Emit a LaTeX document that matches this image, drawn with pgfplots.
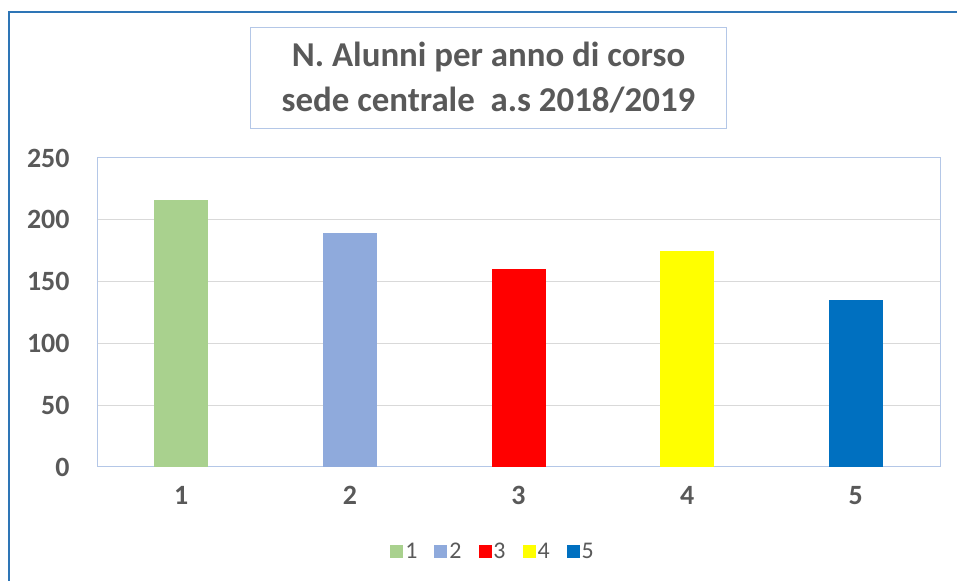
\documentclass[border=0pt]{standalone}
\usepackage{pgfplots}
\pgfplotsset{compat=1.18}
\usepackage{fontspec}
\setmainfont{Carlito}
\definecolor{txt}{HTML}{595959}
\definecolor{gridc}{HTML}{D9D9D9}
\definecolor{plotb}{HTML}{B4C7E7}
\definecolor{frame}{HTML}{2E75B6}
\definecolor{c1}{HTML}{A9D18E}
\definecolor{c2}{HTML}{8FAADC}
\definecolor{c3}{HTML}{FF0000}
\definecolor{c4}{HTML}{FFFF00}
\definecolor{c5}{HTML}{0070C0}
\begin{document}
\begin{tikzpicture}[x=1bp,y=1bp]
\useasboundingbox (0,0) rectangle (957,581);
\draw[frame, line width=1.5bp] (9,0) -- (9,569) -- (957,569);
\begin{axis}[
  at={(97bp,114bp)}, anchor=south west,
  scale only axis, width=843bp, height=309bp,
  xmin=0.5, xmax=5.5, ymin=0, ymax=250,
  xtick={1,2,3,4,5}, ytick={0,50,100,150,200,250},
  major tick length=0pt,
  axis line style={plotb, line width=1bp},
  ymajorgrids, grid style={gridc, line width=1bp},
  /pgf/number format/assume math mode=true,
  ticklabel style={font=\fontsize{28}{30}\selectfont\bfseries, text=txt},
  yticklabel style={xshift=-24bp},
  xticklabel style={yshift=-16bp},
  ybar, bar width=54bp, bar shift=0pt,
  title={N. Alunni per anno di corso\\ sede centrale\ \ a.s 2018/2019},
  title style={at={(axis description cs:0.4644,1.2605)}, anchor=center, yshift=-6bp,
    align=center, draw=plotb, line width=1bp, text=txt,
    font=\fontsize{35}{45}\selectfont\bfseries,
    minimum width=475bp, minimum height=101bp, inner sep=0pt},
  legend style={at={(axis description cs:0.4698,-0.275)}, anchor=center,
    draw=none, legend columns=5, font=\fontsize{24}{26}\selectfont, text=txt,
    /tikz/every even column/.append style={column sep=15bp}},
  legend image code/.code={\fill[#1] (0bp,-6.5bp) rectangle (13bp,6.5bp);},
]
\addplot[fill=c1, draw=none] coordinates {(1,216)};
\addplot[fill=c2, draw=none] coordinates {(2,189)};
\addplot[fill=c3, draw=none] coordinates {(3,160)};
\addplot[fill=c4, draw=none] coordinates {(4,175)};
\addplot[fill=c5, draw=none] coordinates {(5,135)};
\legend{1,2,3,4,5}
\end{axis}
\end{tikzpicture}
\end{document}
